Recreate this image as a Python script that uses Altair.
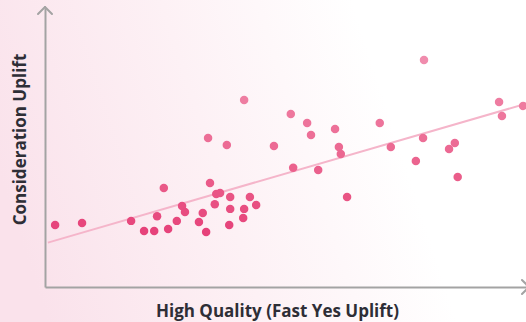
import altair as alt
import pandas as pd

# Brand uplift study: each dot is one ad, scored on two uplift measures
quality_uplift = [2.1, 7.7, 17.9, 20.6, 22.7, 23.3, 24.7, 25.6, 27.4, 28.5,
                  29.1, 32.0, 32.8, 33.5, 34.3, 35.6, 36.4, 35.3, 38.5, 38.5,
                  38.3, 41.4, 41.2, 42.6, 43.9, 41.4, 33.9, 37.8, 47.6, 51.1,
                  51.6, 54.5, 55.3, 60.3, 61.1, 61.5, 56.8, 62.8, 69.6, 71.9,
                  77.1, 78.6, 78.8, 84.0, 85.2, 85.8, 94.4, 95.0, 99.4]
consideration_uplift = [22.2, 22.9, 23.7, 20.1, 20.1, 25.4, 35.5, 20.8, 23.7, 29.0,
                        26.9, 23.3, 26.5, 19.7, 37.3, 33.3, 33.7, 29.7, 32.3, 28.0,
                        22.2, 28.0, 24.7, 32.3, 29.4, 67.0, 53.4, 50.9, 50.5, 62.0,
                        42.7, 58.8, 54.5, 56.6, 50.2, 47.7, 41.9, 32.3, 58.8, 50.2,
                        45.2, 53.4, 81.4, 49.5, 51.6, 39.4, 66.3, 61.3, 64.9]

# Fitted trend line end points
trend_x = [0.6, 100.0]
trend_y = [15.9, 65.7]

points = pd.DataFrame({"x": quality_uplift, "y": consideration_uplift})
trend = pd.DataFrame({"x": trend_x, "y": trend_y})

W, H = 481, 279
FONT = "Open Sans"

x_scale = alt.Scale(domain=[0, 100], nice=False, zero=False)
y_scale = alt.Scale(domain=[0, 100], nice=False, zero=False)

x_axis = alt.Axis(
    title="High Quality (Fast Yes Uplift)", labels=False, ticks=False, grid=False,
    domainColor="#a3a3a3", domainWidth=2, zindex=2,
    titleFont=FONT, titleFontSize=17, titleFontWeight="bold", titleColor="#2e2e36",
    titleX=232, titleY=29, titleBaseline="alphabetic", titleAlign="center",
)
y_axis = alt.Axis(
    title="Consideration Uplift", labels=False, ticks=False, grid=False,
    domainColor="#a3a3a3", domainWidth=2, zindex=2,
    titleFont=FONT, titleFontSize=17, titleFontWeight="bold", titleColor="#2e2e36",
    titleX=-20, titleY=131, titleAngle=270, titleBaseline="alphabetic", titleAlign="center",
)

# Soft pink wash behind the whole graphic
background = alt.Chart(pd.DataFrame({"k": [0]})).mark_rect(
    fill=alt.Gradient(
        gradient="linear",
        stops=[
            alt.GradientStop(color="#fae2eb", offset=0),
            alt.GradientStop(color="#fdf1f5", offset=0.4),
            alt.GradientStop(color="#ffffff", offset=0.75),
        ],
        x1=0, y1=0.55, x2=1, y2=0.35,
    )
).encode(
    x=alt.value(-45), x2=alt.value(W), y=alt.value(-8), y2=alt.value(H + 35)
)

trend_line = alt.Chart(trend).mark_line(
    color="#f5b5ca", strokeWidth=2, clip=False
).encode(
    x=alt.X("x:Q", scale=x_scale, axis=x_axis),
    y=alt.Y("y:Q", scale=y_scale, axis=y_axis),
)

dots = alt.Chart(points).mark_circle(size=72, opacity=1).encode(
    x=alt.X("x:Q", scale=x_scale, axis=x_axis),
    y=alt.Y("y:Q", scale=y_scale, axis=y_axis),
    color=alt.Color("y:Q", scale=alt.Scale(domain=[20, 82], range=["#e6427a", "#f08dad"]),
                    legend=None),
)

# Arrow heads on both axes
arrow_style = dict(color="#a3a3a3", strokeWidth=2, strokeCap="round")
src = pd.DataFrame({"k": [0]})
y_arrow_l = alt.Chart(src).mark_rule(**arrow_style).encode(
    x=alt.value(0), y=alt.value(-1), x2=alt.value(-7), y2=alt.value(6))
y_arrow_r = alt.Chart(src).mark_rule(**arrow_style).encode(
    x=alt.value(0), y=alt.value(-1), x2=alt.value(7), y2=alt.value(6))
x_arrow_t = alt.Chart(src).mark_rule(**arrow_style).encode(
    x=alt.value(W + 3), y=alt.value(H), x2=alt.value(W - 4), y2=alt.value(H - 7))
x_arrow_b = alt.Chart(src).mark_rule(**arrow_style).encode(
    x=alt.value(W + 3), y=alt.value(H), x2=alt.value(W - 4), y2=alt.value(H + 7))

chart = alt.layer(
    background, trend_line, dots, y_arrow_l, y_arrow_r, x_arrow_t, x_arrow_b
).properties(
    width=W, height=H,
    padding={"left": 45, "top": 8, "right": 0, "bottom": 35},
    autosize=alt.AutoSizeParams(type="none"),
    background="#ffffff",
).configure_view(stroke=None)

chart.save("out.html", embed_options={"renderer": "svg", "actions": False})
